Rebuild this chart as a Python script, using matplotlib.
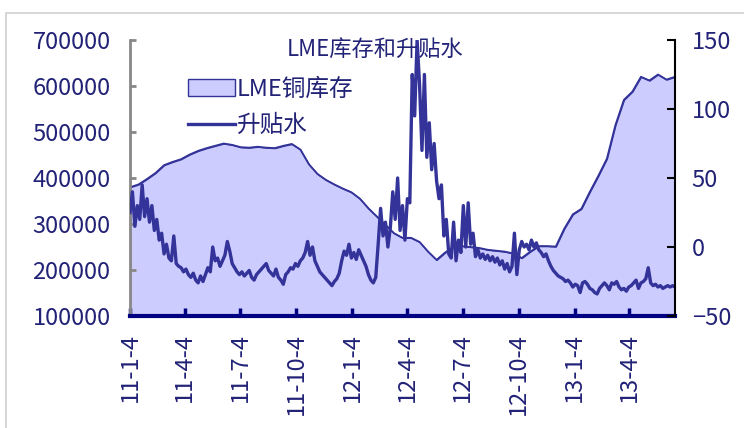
import matplotlib
matplotlib.use("Agg")
import matplotlib.pyplot as plt
import pandas as pd
from matplotlib.patches import Rectangle

plt.rcParams['font.family'] = ['Noto Sans CJK SC', 'DejaVu Sans']

# LME copper stocks (t), sampled every 14 days from 2011-01-04
inv_vals = [380000, 386000, 398000, 411000, 428000, 435000, 441000, 451000,
            459000, 465000, 470000, 475000, 472000, 467000, 466000, 468000,
            466000, 465000, 470000, 474000, 462000, 430000, 409000, 396000,
            386000, 377000, 369000, 355000, 334000, 316000, 298000, 280000,
            270000, 270000, 261000, 240000, 222000, 238000, 250000, 252000,
            250000, 248000, 244000, 242000, 240000, 236000, 226000, 240000,
            252000, 252000, 251000, 290000, 321000, 333000, 370000, 405000,
            442000, 515000, 570000, 588000, 620000, 612000, 625000, 614000,
            620000]

# cash/3M spread (USD/t), sampled every 4 days from 2011-01-04
spread_vals = [
    25, 40, 15, 30, 20, 45, 22, 35, 18, 30, 12, 20, 5, 10, -5, 2, -8, -10, 8, -12, -14, -15, -18,
    -16, -20, -22, -19, -24, -26, -21, -25, -20, -15, -18, 0, -10, -8, -14, -10, -6, 4, -3, -12, -15, -18, -20,
    -18, -21, -19, -17, -22, -24, -20, -18, -16, -14, -12, -17, -19, -21, -16, -22, -24, -27, -20, -18, -15, -16, -12,
    -14, -10, -8, -4, 4, -6, 0, -10, -14, -18, -20, -22, -24, -26, -28, -25, -23, -19, -10, -3, -6, 2, -8,
    -4, -9, -2, -6, -10, -14, -20, -24, -26, -22, 2, 28, 8, 18, 0, 14, 40, 20, 50, 12, 30, 5, 35,
    32, 125, 95, 150, 118, 70, 125, 65, 90, 56, 75, 48, 35, 45, 8, 20, -5, -8, 18, -10, 5, -4, 30,
    0, 32, 2, 10, -7, -2, -8, -5, -9, -6, -10, -7, -11, -8, -13, -10, -16, -12, -18, -14, 10, -20, -2,
    4, 0, 2, -2, 5, 0, 3, -2, -4, -7, -5, -10, -14, -17, -19, -21, -22, -23, -25, -24, -26, -29, -27,
    -28, -33, -26, -25, -27, -30, -31, -33, -34, -30, -28, -26, -28, -31, -26, -27, -25, -29, -31, -30, -32, -29, -28,
    -26, -24, -30, -26, -25, -23, -15, -26, -28, -27, -29, -28, -30, -29, -28, -29, -28, -29]

tick_dates = ['2011-01-04', '2011-04-04', '2011-07-04', '2011-10-04', '2012-01-04',
              '2012-04-04', '2012-07-04', '2012-10-04', '2013-01-04', '2013-04-04']
tick_labels = ['11-1-4', '11-4-4', '11-7-4', '11-10-4', '12-1-4',
               '12-4-4', '12-7-4', '12-10-4', '13-1-4', '13-4-4']

inv_dates = pd.date_range('2011-01-04', periods=len(inv_vals), freq='14D')
spread_dates = pd.date_range('2011-01-04', periods=len(spread_vals), freq='4D')

navy = '#333399'
txt = '#222277'

fig = plt.figure(figsize=(7.44, 4.28), dpi=100)
ax = fig.add_axes([130/744, 1-316/428, 545/744, 276/428])
ax2 = ax.twinx()

ax.fill_between(inv_dates, 100000, inv_vals, facecolor='#CCCCFF', edgecolor='none', label='LME铜库存')
ax.plot(inv_dates, inv_vals, color=navy, lw=1.3)
ax2.plot(spread_dates, spread_vals, color=navy, lw=2.4, label='升贴水')

ax.set_xlim(inv_dates[0], inv_dates[-1])
ax.set_ylim(100000, 700000)
ax.set_yticks(range(100000, 700001, 100000))
ax2.set_ylim(-50, 150)
ax2.set_yticks([-50, 0, 50, 100, 150])

ax.set_xticks(pd.to_datetime(tick_dates))
ax.set_xticklabels(tick_labels, rotation=90)

for s in ['top']:
    ax.spines[s].set_visible(False)
    ax2.spines[s].set_visible(False)
ax.spines['left'].set_color('#888888')
ax.spines['left'].set_linewidth(2)
ax2.spines['left'].set_visible(False)
ax2.spines['right'].set_color('black')
ax2.spines['right'].set_linewidth(1.5)
ax.spines['right'].set_visible(False)
ax2.spines['bottom'].set_visible(False)
ax.spines['bottom'].set_color('#000080')
ax.spines['bottom'].set_linewidth(3)

ax.tick_params(axis='y', direction='in', length=4, width=2, color='#888888',
               labelsize=17, labelcolor=txt, pad=14)
ax.tick_params(axis='x', direction='in', length=6, width=2.5, color='#000080',
               labelsize=17, labelcolor=txt, pad=12)
ax2.tick_params(axis='y', direction='in', length=6, width=1.5, color='black',
                labelsize=17, labelcolor=txt, pad=12)

h1, l1 = ax.get_legend_handles_labels()
h2, l2 = ax2.get_legend_handles_labels()
h1[0].set_edgecolor(navy)
leg = ax2.legend(h1 + h2, l1 + l2, loc='upper left', frameon=False, fontsize=17,
                 bbox_to_anchor=(176/744, 1-66/428), bbox_transform=fig.transFigure,
                 borderpad=0, handlelength=2.0, handletextpad=0.05, labelspacing=0.55,
                 labelcolor=txt)

fig.text(375/744, 1-49/428, 'LME库存和升贴水', ha='center', va='center',
         fontsize=16, color=txt)

fig.patches.append(Rectangle((6/744, -0.1), 1.2, 1-13/428+0.1, transform=fig.transFigure,
                             fill=False, edgecolor='#D0D0D0', lw=1.2))

fig.savefig('out.png', dpi=100)
